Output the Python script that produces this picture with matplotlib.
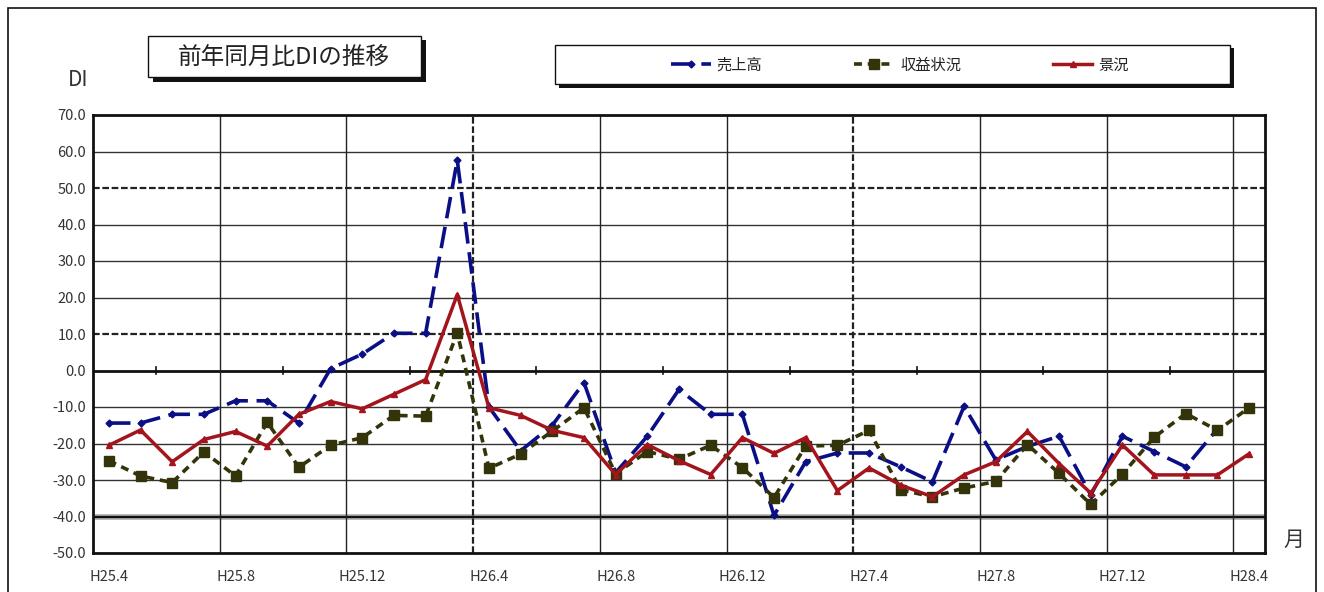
import numpy as np
import matplotlib
matplotlib.use("Agg")
import matplotlib.pyplot as plt
from matplotlib.patches import Rectangle

plt.rcParams['font.family'] = ['Noto Sans CJK JP', 'DejaVu Sans']

# ---------------- data ----------------
months = ["H25.4", "H25.5", "H25.6", "H25.7", "H25.8", "H25.9", "H25.10", "H25.11", "H25.12",
          "H26.1", "H26.2", "H26.3", "H26.4", "H26.5", "H26.6", "H26.7", "H26.8", "H26.9",
          "H26.10", "H26.11", "H26.12", "H27.1", "H27.2", "H27.3", "H27.4", "H27.5", "H27.6",
          "H27.7", "H27.8", "H27.9", "H27.10", "H27.11", "H27.12", "H28.1", "H28.2", "H28.3", "H28.4"]

sales = [-14.4, -14.4, -12.0, -12.0, -8.3, -8.3, -14.4, 0.5, 4.5, 10.2, 10.2, 57.6,
         -10.0, -22.0, -15.0, -3.3, -28.0, -18.0, -5.2, -12.0, -12.0, -39.7, -25.0, -22.6,
         -22.6, -26.4, -30.5, -9.8, -24.5, -20.8, -18.0, -34.1, -18.0, -22.2, -26.4, -16.0, np.nan]

profit = [-24.7, -28.9, -30.7, -22.3, -28.9, -14.2, -26.5, -20.5, -18.4, -12.3, -12.5, 10.3,
          -26.8, -22.9, -16.6, -10.2, -28.3, -22.2, -24.3, -20.5, -26.6, -34.8, -20.7, -20.5,
          -16.4, -32.7, -34.6, -32.2, -30.4, -20.3, -28.2, -36.7, -28.4, -18.3, -11.8, -16.4, -10.2]

business = [-20.5, -16.3, -25.0, -18.9, -16.7, -20.7, -12.0, -8.5, -10.5, -6.5, -2.5, 20.8,
            -10.2, -12.3, -16.4, -18.4, -28.5, -20.3, -24.7, -28.5, -18.4, -22.7, -18.4, -32.9,
            -26.7, -31.4, -34.6, -28.6, -25.0, -16.7, -25.5, -33.6, -20.4, -28.6, -28.6, -28.6, -22.8]

series_names = ["売上高", "収益状況", "景況"]
yticks = [70, 60, 50, 40, 30, 20, 10, 0, -10, -20, -30, -40, -50]
fiscal_year_starts = ["H26.4", "H27.4"]
label_every = 4

# ---------------- figure ----------------
W, H = 1324, 592
fig = plt.figure(figsize=(W / 100, H / 100), dpi=100)
fig.patch.set_facecolor('white')

def fx(px):
    return px / W

def fy(py):
    return 1 - py / H

ax = fig.add_axes([fx(93), fy(553), fx(1265) - fx(93), fy(115) - fy(553)])

x = np.arange(len(months))
n = len(months)
ax.set_xlim(-0.5, n - 0.5)
ax.set_ylim(-50, 70)

# horizontal grid lines
for v in yticks:
    if v in (50, 10):
        ax.axhline(v, color='#222222', lw=1.6, ls=(0, (3, 1.2)), zorder=1)
    elif v == 0:
        ax.axhline(v, color='#111111', lw=2.0, zorder=1)
    elif v == -40:
        ax.axhline(v, color='#aaaaaa', lw=4.0, zorder=1)
        ax.axhline(v, color='#111111', lw=1.6, zorder=1)
    elif v in (70, -50):
        continue
    else:
        ax.axhline(v, color='#333333', lw=1.0, zorder=1)

# vertical grid lines at category boundaries every 4 months
for b in np.arange(label_every - 0.5, n - 0.5, label_every):
    if months[int(b + 0.5)] in fiscal_year_starts:
        ax.axvline(b, color='#222222', lw=1.6, ls=(0, (3, 1.2)), zorder=1)
    else:
        ax.axvline(b, color='#222222', lw=1.0, zorder=1)

# small tick marks on the zero line
for b in np.arange(1.5, n - 0.5, label_every):
    ax.plot([b, b], [-0.9, 0.9], color='#111111', lw=1.2, zorder=2)

# series
c_blue = '#0b0f86'
c_green = '#34340a'
c_red = '#a3141c'
l1, = ax.plot(x, sales, color=c_blue, lw=2.6, dashes=(6, 2.4), marker='D', ms=3.5,
              mfc=c_blue, mec=c_blue, zorder=3)
l2, = ax.plot(x, profit, color=c_green, lw=2.6, dashes=(2.2, 1.6), marker='s', ms=6.5,
              mfc=c_green, mec=c_green, zorder=4)
l3, = ax.plot(x, business, color=c_red, lw=2.5, marker='^', ms=5,
              mfc=c_red, mec=c_red, zorder=5)

# axes styling
for s in ax.spines.values():
    s.set_linewidth(2.0)
    s.set_color('#111111')
ax.set_yticks(yticks)
ax.set_yticklabels([f"{v:.1f}" for v in yticks])
ax.set_xticks(x[::label_every])
ax.set_xticklabels(months[::label_every])
ax.tick_params(axis='both', length=0, labelsize=10.5, labelcolor='#333333')
ax.tick_params(axis='x', pad=12)
ax.tick_params(axis='y', pad=5)

# axis captions
fig.text(fx(78), fy(80), "DI", ha='center', va='center', fontsize=15, color='#333333')
fig.text(fx(1294), fy(540), "月", ha='center', va='center', fontsize=15, color='#333333')

# title box with shadow
fig.patches.append(Rectangle((fx(153), fy(82)), fx(426) - fx(153), fy(40) - fy(82),
                             transform=fig.transFigure, facecolor='#111111', edgecolor='none'))
fig.patches.append(Rectangle((fx(148), fy(77)), fx(421) - fx(148), fy(36) - fy(77),
                             transform=fig.transFigure, facecolor='white', edgecolor='#111111', lw=1.0))
fig.text(fx(284), fy(57), "前年同月比DIの推移", ha='center', va='center', fontsize=17, color='#222222')

# legend box with shadow
fig.patches.append(Rectangle((fx(559), fy(88)), fx(1234) - fx(559), fy(48) - fy(88),
                             transform=fig.transFigure, facecolor='#111111', edgecolor='none'))
fig.patches.append(Rectangle((fx(555), fy(84)), fx(1230) - fx(555), fy(45) - fy(84),
                             transform=fig.transFigure, facecolor='white', edgecolor='#111111', lw=1.0))
fig.legend([l1, l2, l3], series_names, loc='center', bbox_to_anchor=(fx(900), fy(65)),
           ncol=3, frameon=False, fontsize=11, handlelength=2.6, handletextpad=0.4,
           columnspacing=6.0, labelcolor='#222222')

# outer border
fig.patches.append(Rectangle((fx(8), fy(620)), fx(1316) - fx(8), fy(8) - fy(620),
                             transform=fig.transFigure, facecolor='none', edgecolor='#111111', lw=1.2))

fig.savefig("out.png", dpi=100)
